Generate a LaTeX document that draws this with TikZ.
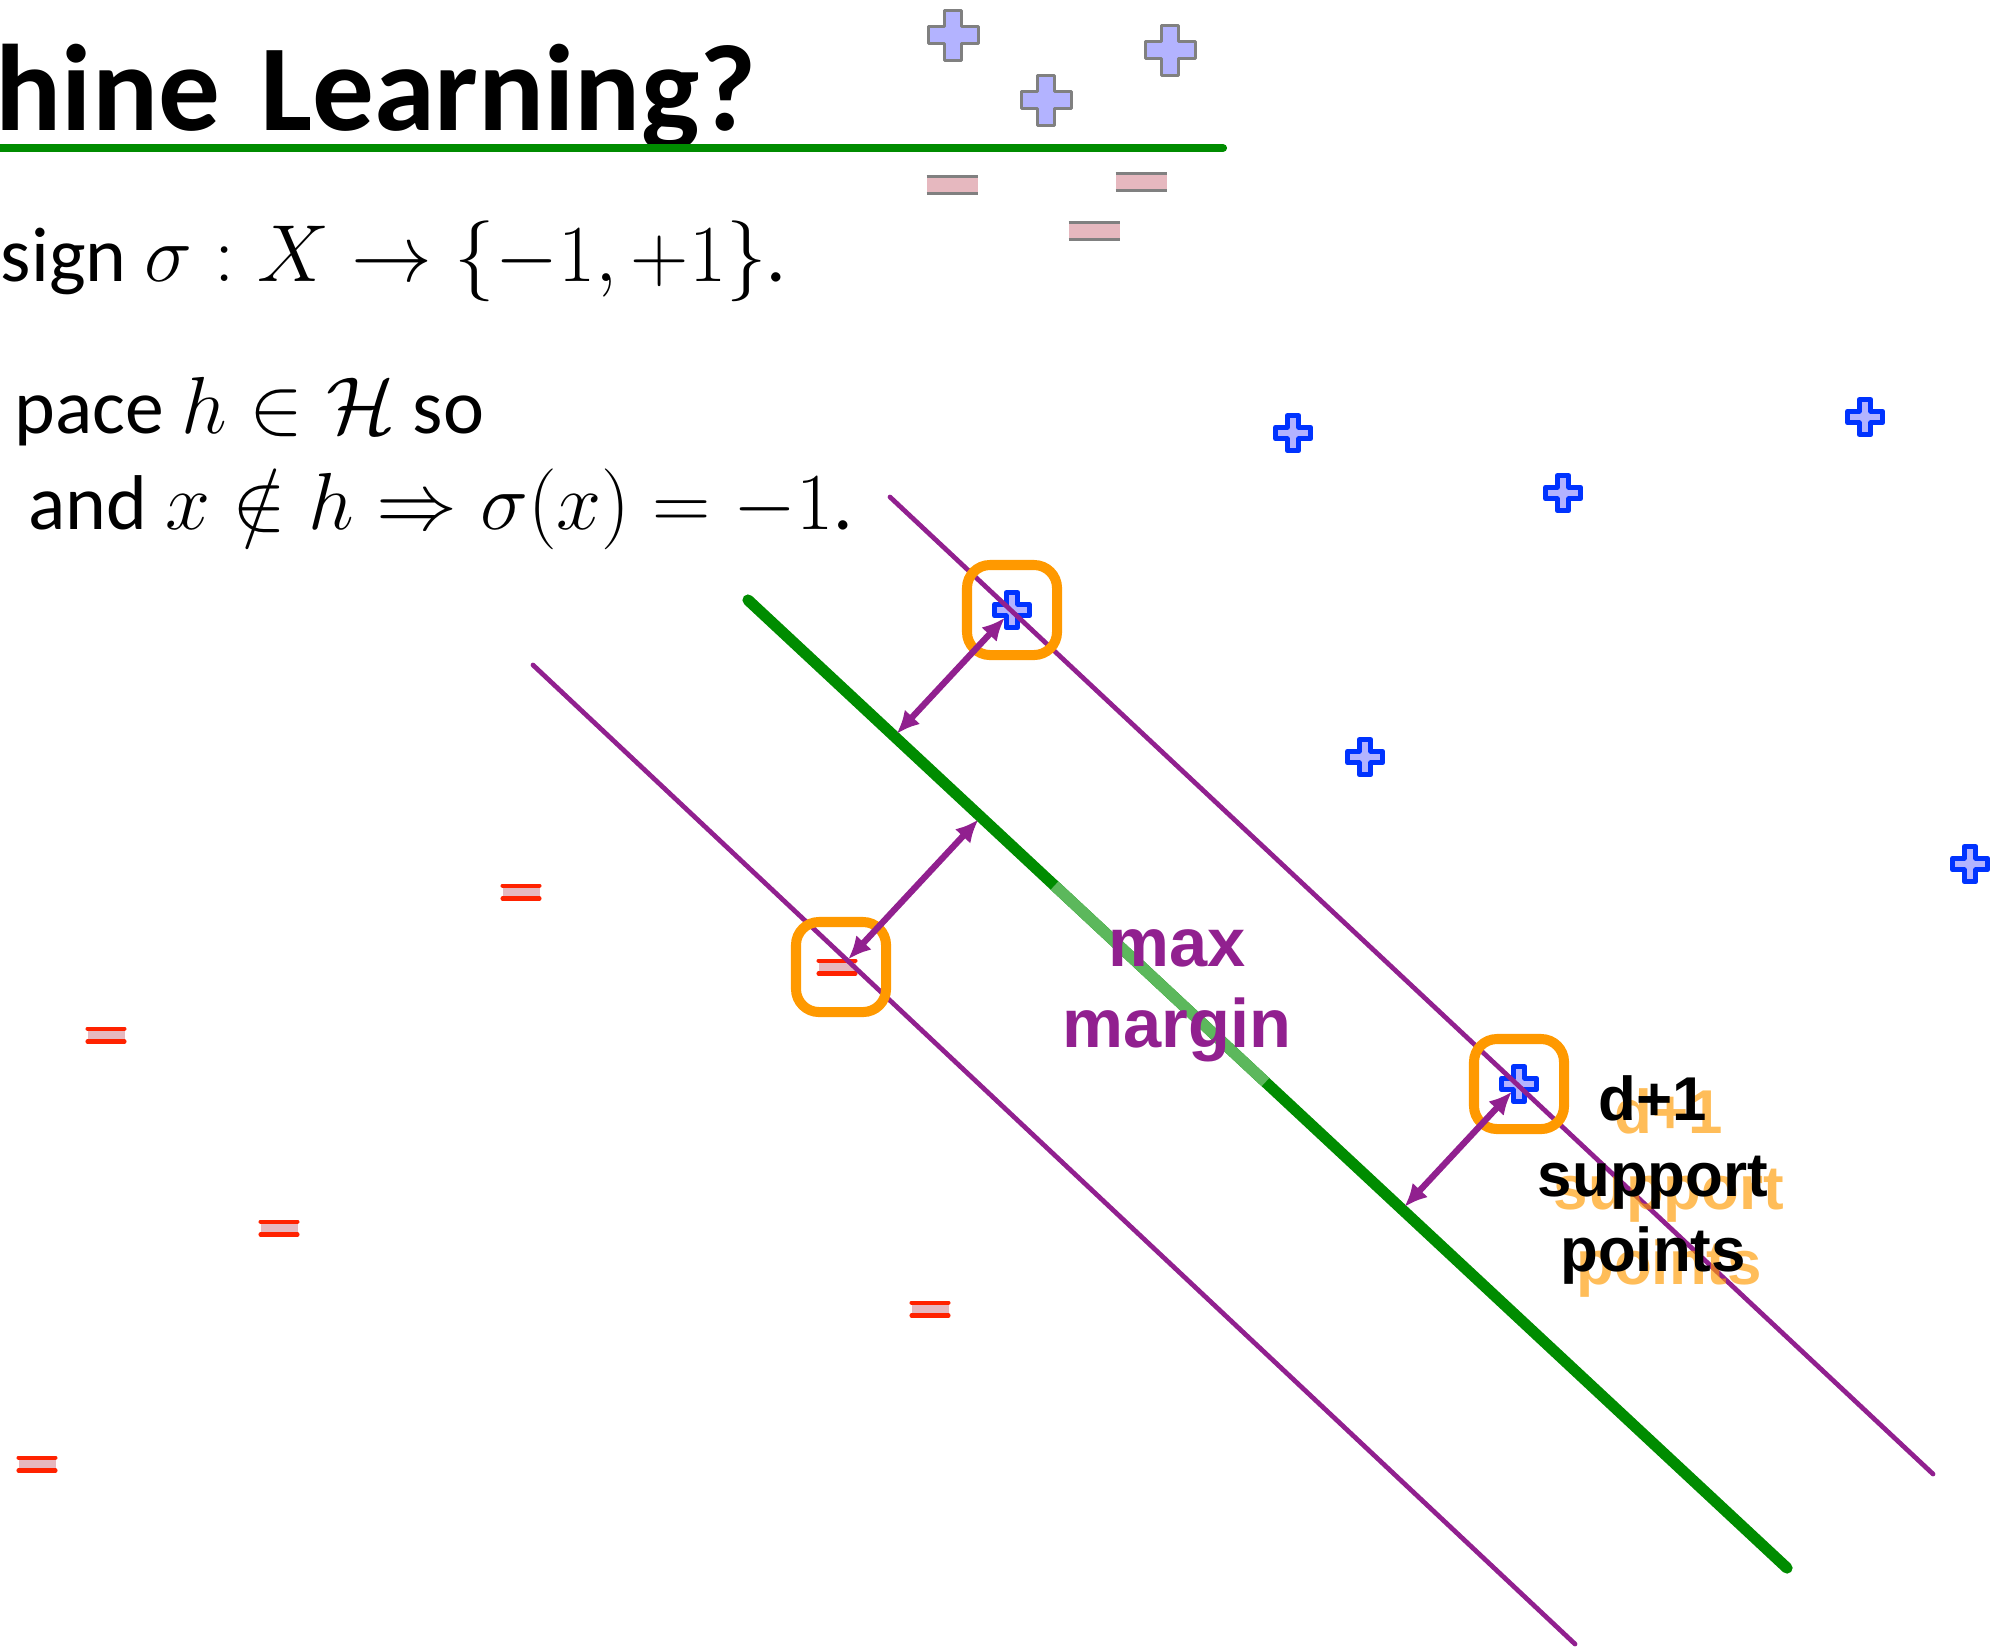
\RequirePackage{fix-cm}
\documentclass[tikz,border=0pt]{standalone}
\usepackage{amsmath,amssymb}
\usepackage[no-math]{fontspec}
\setmainfont{Carlito}
\newfontfamily\bodyfont{Carlito}[Scale=0.96]
\newfontfamily\labfont{Liberation Sans}
\usetikzlibrary{arrows.meta, calc, positioning}

\definecolor{mpurple}{RGB}{145,32,143}
\definecolor{sgreen}{RGB}{0,140,0}
\definecolor{lgreen}{RGB}{92,184,92}
\definecolor{sorange}{RGB}{255,153,0}
\definecolor{posblue}{RGB}{0,51,255}
\definecolor{posfill}{RGB}{179,179,255}
\definecolor{negred}{RGB}{255,34,0}
\definecolor{negfill}{RGB}{230,184,191}
\definecolor{markgray}{RGB}{128,128,128}

\begin{document}
\begin{tikzpicture}[
          x=0.01cm, y=-0.01cm,
          >={Latex[length=6.5pt, width=6pt]},
          bound/.style={draw=mpurple, line width=1.35pt, line cap=round},
          sepline/.style={draw=sgreen, line width=3.2pt, line cap=round},
          gap/.style={<->, draw=mpurple, line width=1.8pt, shorten <=3pt, shorten >=1pt},
          svbox/.style={draw=sorange, line width=2.85pt, rounded corners=0.23cm,
                        minimum size=0.9cm, inner sep=0pt},
          posdata/.style={draw=posblue, fill=posfill, line width=1.4pt, line join=round},
          poskey/.style={draw=markgray, fill=posfill, line width=0.85pt, line join=round},
          negdata/.style={draw=negred, line width=1.15pt, line cap=round},
          negkey/.style={draw=markgray, line width=0.85pt},
          body/.style={anchor=base east, inner sep=0pt,
                       font=\bodyfont\fontsize{23}{28}\selectfont},
          lab/.style={align=center, inner sep=0pt,
                      font=\labfont\bfseries\fontsize{19.5}{23}\selectfont},
          suptext/.style={align=center, inner sep=0pt,
                      font=\labfont\bfseries\fontsize{17.6}{21.4}\selectfont},
        ]
        \useasboundingbox (0,0) rectangle (1998,1647);

        % plus and minus markers: x, y, half size, style
        \newcommand{\posmark}[4]{%
          \draw[#4, shift={(#1,#2)}, scale=#3]
            (-1,-.33) -- (-.33,-.33) -- (-.33,-1) -- (.33,-1) -- (.33,-.33) -- (1,-.33)
            -- (1,.33) -- (.33,.33) -- (.33,1) -- (-.33,1) -- (-.33,.33) -- (-1,.33) -- cycle;
        }
        \newcommand{\negmark}[4]{%
          \begin{scope}[shift={(#1,#2)}, scale=#3]
            \fill[negfill] (-1,-.35) rectangle (1,.35);
            \draw[#4] (-1,-.35) -- (1,-.35) (-1,.35) -- (1,.35);
          \end{scope}
        }

        % --- slide title and text ---
        \node[anchor=base east, inner sep=0pt, font=\fontsize{35}{40}\selectfont\bfseries]
          (title) at (757,130) {hine\hspace{0.1em} Learning?};
        \draw[draw=sgreen, line width=2.3pt, line cap=round] (-20,148) -- (1223,148);

        \node[body] (line1) at (787,281) {sign $\sigma : X \to \{-1,+1\}$.};
        \node[body] (line2) at (485,433) {pace $h \in \mathcal{H}$ so};
        \node[body] (line3) at (854,529) {and $x \notin h \Rightarrow \sigma(x) = -1$.};

        % --- key markers (top right) ---
        \foreach \px/\py in {953/35, 1046/100, 1170/50}
          \posmark{\px}{\py}{25}{poskey};
        \foreach \px/\py in {952/185, 1141/182, 1094/231}
          \negmark{\px}{\py}{25.5}{negkey};

        % --- data points ---
        \foreach \px/\py in {1293/433, 1563/493, 1865/417, 1365/757, 1970/864,
                             1012/610, 1519/1084}
          \posmark{\px}{\py}{17.5}{posdata};
        \foreach \px/\py in {521/892, 106/1035, 279/1228, 930/1309, 37/1464, 837/967}
          \negmark{\px}{\py}{18.5}{negdata};

        % --- margin boundaries and separator ---
        \coordinate (u1) at (890,497);
        \coordinate (u2) at (1933,1474);
        \coordinate (l1) at (533,665);
        \coordinate (l2) at (1575,1644);
        \coordinate (g1) at (748,600);
        \coordinate (g2) at (1787,1568);

        \draw[bound] (u1) -- (u2);
        \draw[bound] (l1) -- (l2);
        \draw[sepline] (g1) -- (g2);
        \draw[sepline, draw=lgreen, line cap=butt] ($(g1)!0.295!(g2)$) -- ($(g1)!0.498!(g2)$);

        % --- support points ---
        \node[svbox] (sv1) at (1012,610) {};
        \node[svbox] (sv2) at (841,967) {};
        \node[svbox] (sv3) at (1519,1084) {};

        % feet of the perpendiculars on the separator
        \coordinate (f1) at ($(g1)!(sv1.center)!(g2)$);
        \coordinate (f2) at ($(g1)!(sv2.center)!(g2)$);
        \coordinate (f3) at ($(g1)!(sv3.center)!(g2)$);

        \draw[gap] (sv1.center) -- (f1);
        \draw[gap] (sv2.center) -- (f2);
        \draw[gap] (sv3.center) -- (f3);

        % --- labels ---
        \node[lab, text=mpurple] (maxlab) at (1177,996) {max\\margin};

        % orange shadow under the support label
        \node[suptext, text=sorange, text opacity=.65] (supshade)
          at (1669,1193) {d+1\\support\\points};
        \node[suptext] (suplab) at (1653,1180) {d+1\\support\\points};

\end{tikzpicture}
\end{document}
